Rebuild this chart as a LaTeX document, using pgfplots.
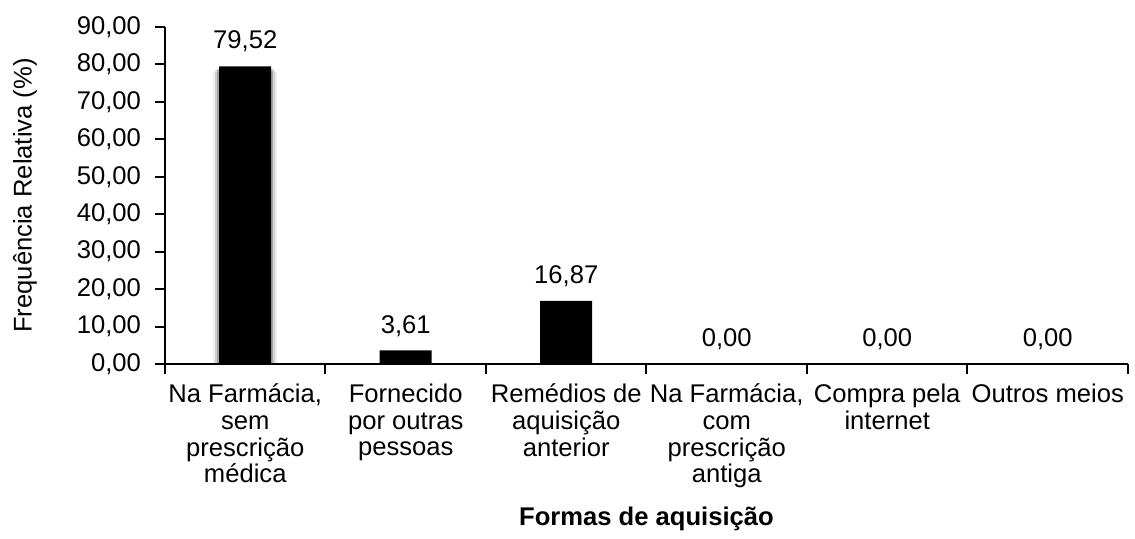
\documentclass[border=0pt]{standalone}
\usepackage{fontspec}
\setmainfont{Liberation Sans}
\usepackage{pgfplots}
\pgfplotsset{compat=1.18}
\begin{document}
\begin{tikzpicture}
\begin{axis}[
  name=ax, scale only axis, width=481.5pt, height=168.5pt,
  xmin=-0.5, xmax=5.5, ymin=0, ymax=90,
  axis x line*=bottom, axis y line*=left,
  axis line style={line width=1pt, -},
  tick style={line width=1pt, black},
  tick align=outside, major tick length=5pt, minor tick length=5pt,
  ytick={0,10,...,90},
  yticklabel style={/pgf/number format/fixed, /pgf/number format/fixed zerofill,
    /pgf/number format/precision=2, /pgf/number format/use comma,
    /pgf/number format/assume math mode=true, xshift=-3.5pt},
  xtick={0,...,5},
  every major x tick/.append style={draw=none},
  minor xtick={-0.5,0.5,...,5.5},
  xticklabels={{Na Farmácia,\\sem\\prescrição\\médica},{Fornecido\\por outras\\pessoas},{Remédios de\\aquisição\\anterior},{Na Farmácia,\\com\\prescrição\\antiga},{Compra pela\\internet},{Outros meios}},
  x tick label style={align=center, anchor=north, yshift=-1.5pt},
  tick label style={font=\fontsize{12.8}{13.3}\selectfont},
  label style={font=\fontsize{12.8}{13.3}\selectfont},
  xlabel={\textbf{Formas de aquisição}},
  xlabel style={yshift=-2.5pt},
  ylabel={Frequência Relativa (\%)},
  every axis y label/.style={at={([xshift=-70pt]rel axis cs:0,0.5)}, rotate=90, anchor=center, font=\fontsize{12.8}{13.3}\selectfont},
  clip=false,
]
\addplot[ybar, bar shift=0pt, bar width=32pt, fill=black, opacity=0.07, draw=none] coordinates {(0,78.0)};
\addplot[ybar, bar shift=0pt, bar width=30pt, fill=black, opacity=0.12, draw=none] coordinates {(0,78.4)};
\addplot[ybar, bar shift=0pt, bar width=28pt, fill=black, opacity=0.2, draw=none] coordinates {(0,78.8)};
\addplot[ybar, bar shift=0pt, bar width=26pt, fill=black, draw=none,
  nodes near coords,
  nodes near coords style={font=\fontsize{12.8}{13.3}\selectfont, black,
    /pgf/number format/fixed, /pgf/number format/fixed zerofill,
    /pgf/number format/precision=2, /pgf/number format/use comma,
    /pgf/number format/assume math mode=true, yshift=3.5pt}]
  coordinates {(0,79.52) (1,3.61) (2,16.87) (3,0) (4,0) (5,0)};
\end{axis}
\pgfresetboundingbox
\path ([shift={(-82.5pt,-87pt)}]ax.south west) rectangle ([shift={(485pt,182pt)}]ax.south west);
\end{tikzpicture}
\end{document}
